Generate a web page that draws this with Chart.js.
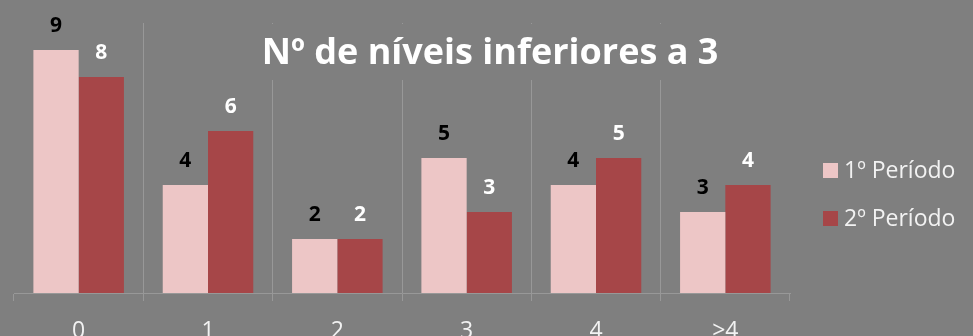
<!DOCTYPE html>
<html>
<head>
<meta charset="utf-8">
<script src="https://cdn.jsdelivr.net/npm/chart.js@4"></script>
<style>
  html, body { margin: 0; padding: 0; background: #7f7f7f; overflow: hidden; }
  #wrap { width: 973px; height: 336px; position: relative; }
</style>
</head>
<body>
<div id="wrap"><canvas id="niveisChart"></canvas></div>
<script>
const categories = ['0', '1', '2', '3', '4', '>4'];
const periodo1 = [9, 4, 2, 5, 4, 3];
const periodo2 = [8, 6, 2, 3, 5, 4];
const seriesLabels = ['1º Período', '2º Período'];
const chartTitle = 'Nº de níveis inferiores a 3';

const pink = 'rgb(237,198,198)';
const darkRed = 'rgb(166,70,72)';
const gridGray = 'rgb(152,152,152)';
const textLight = '#f2f2f2';

// value labels above each bar
const valueLabels = {
    id: 'valueLabels',
    afterDatasetsDraw(chart) {
        const ctx = chart.ctx;
        ctx.save();
        ctx.font = 'bold 21px "Open Sans"';
        ctx.textAlign = 'center';
        ctx.textBaseline = 'alphabetic';
        chart.data.datasets.forEach(function(ds, i) {
            ctx.fillStyle = i === 0 ? '#000000' : '#ffffff';
            chart.getDatasetMeta(i).data.forEach(function(bar, j) {
                ctx.fillText(ds.data[j], bar.x, bar.y - 18);
            });
        });
        ctx.restore();
    }
};

// title sits inside the plot, on a box that hides the grid lines
const innerTitle = {
    id: 'innerTitle',
    beforeDatasetsDraw(chart) {
        const ctx = chart.ctx;
        ctx.save();
        ctx.fillStyle = '#7f7f7f';
        ctx.fillRect(254, 24, 474, 56);
        ctx.font = 'bold 36px "Open Sans"';
        ctx.fillStyle = '#ffffff';
        ctx.textAlign = 'center';
        ctx.textBaseline = 'alphabetic';
        ctx.fillText(chartTitle, 490, 64);
        ctx.restore();
    }
};

// legend on the right
const sideLegend = {
    id: 'sideLegend',
    afterDraw(chart) {
        const ctx = chart.ctx;
        ctx.save();
        ctx.font = '23px "Open Sans"';
        ctx.textBaseline = 'middle';
        chart.data.datasets.forEach(function(ds, i) {
            const cy = 170 + i * 48;
            ctx.fillStyle = ds.backgroundColor;
            ctx.fillRect(823, cy - 7, 15, 15);
            ctx.fillStyle = textLight;
            ctx.fillText(ds.label, 844, cy + 1);
        });
        ctx.restore();
    }
};

const ctx = document.getElementById('niveisChart').getContext('2d');
const niveisChart = new Chart(ctx, {
    type: 'bar',
    data: {
        labels: categories,
        datasets: [{
            label: seriesLabels[0],
            data: periodo1,
            backgroundColor: pink,
            borderWidth: 0
        }, {
            label: seriesLabels[1],
            data: periodo2,
            backgroundColor: darkRed,
            borderWidth: 0
        }]
    },
    options: {
        responsive: true,
        maintainAspectRatio: false,
        animation: false,
        layout: {
            padding: { left: 14, right: 183, top: 23, bottom: 0 }
        },
        datasets: {
            bar: { categoryPercentage: 0.7, barPercentage: 1.0 }
        },
        scales: {
            x: {
                afterFit(scale) { scale.height = 43; },
                grid: {
                    offset: true,
                    color(c) {
                        return (c.type !== 'tick' || c.index === 0) ? 'rgba(0,0,0,0)' : gridGray;
                    },
                    tickColor: gridGray,
                    tickLength: 8,
                    lineWidth: 1
                },
                border: { color: gridGray, width: 1 },
                ticks: {
                    color: textLight,
                    font: { family: 'Open Sans', size: 23 },
                    padding: 17,
                    maxRotation: 0
                }
            },
            y: {
                display: false,
                min: 0,
                max: 10
            }
        },
        plugins: {
            legend: { display: false },
            title: { display: false },
            tooltip: { enabled: false }
        }
    },
    plugins: [valueLabels, innerTitle, sideLegend]
});
</script>
</body>
</html>
